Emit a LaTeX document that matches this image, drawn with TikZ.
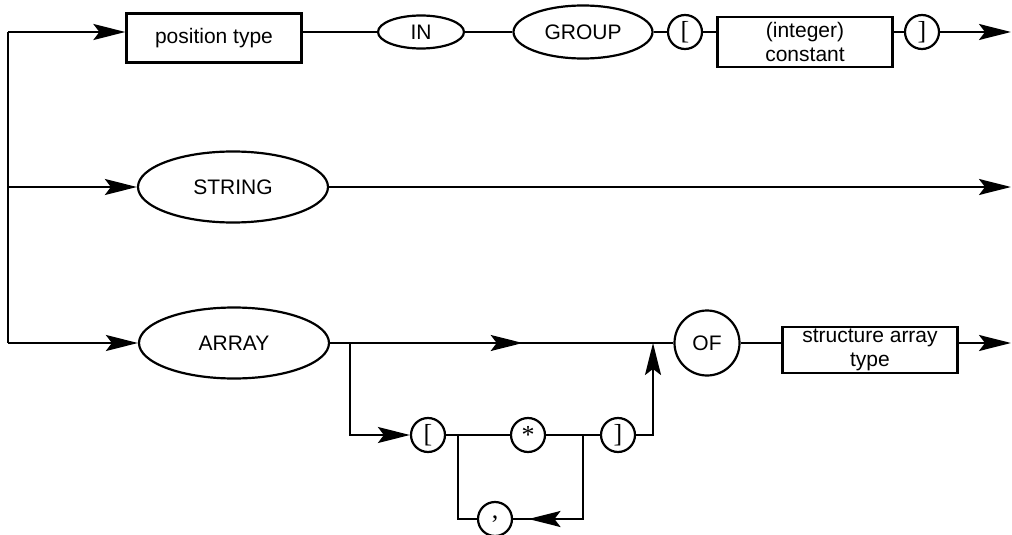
\documentclass[tikz,border=0pt]{standalone}
\usepackage{fontspec}
\setmainfont{Liberation Sans}
\newfontfamily\symfont{Liberation Serif}
\usetikzlibrary{shapes.geometric, arrows.meta, decorations.markings}

\begin{document}
\begin{tikzpicture}[
        x=0.5pt, y=-0.5pt, line width=1.1pt,
        every node/.style={font=\fontsize{10.5}{12}\selectfont},
        arrow/.style={-{Stealth[length=16pt, width=8pt, inset=3pt]}},
        midarrow/.style={postaction={decorate}, decoration={markings, mark=at position #1 with {\arrow{Stealth[length=16pt, width=8pt, inset=3pt]}}}},
        keyword/.style={ellipse, draw, inner sep=0pt},
        symbol/.style={circle, draw, minimum size=17pt, inner sep=0pt, font=\symfont\fontsize{13}{13}\selectfont},
        rulebox/.style={rectangle, draw, minimum width=87.5pt, align=center, inner sep=0pt}
    ]
        \useasboundingbox (0,0) rectangle (1012,535);

        % first alternative
        \coordinate (start1) at (8,32);
        \coordinate (end1) at (1011,32);
        \node[rulebox, minimum height=24.5pt] (ptype) at (214,38) {position type};
        \node[keyword, minimum width=43pt, minimum height=16.5pt] (in) at (421,32) {IN};
        \node[keyword, minimum width=69.5pt, minimum height=26.5pt] (group) at (583,32) {GROUP};
        \node[symbol] (lbr) at (685,32) {[};
        \node[rulebox, minimum height=25pt] (const) at (805,42) {(integer)\\constant};
        \node[symbol] (rbr) at (922,32) {]};

        \draw[arrow] (start1) -- (start1 -| ptype.west);
        \draw (ptype.east |- start1) -- (in);
        \draw (in) -- (group);
        \draw (group) -- (lbr);
        \draw (lbr) -- (lbr -| const.west);
        \draw (rbr -| const.east) -- (rbr);
        \draw[arrow] (rbr) -- (end1);

        % second alternative
        \coordinate (start2) at (8,187);
        \coordinate (end2) at (1011,187);
        \node[keyword, minimum width=95pt, minimum height=35.5pt] (string) at (233,187) {STRING};

        \draw[arrow] (start2) -- (string);
        \draw[arrow] (string) -- (end2);

        % third alternative
        \coordinate (start3) at (8,343);
        \coordinate (end3) at (1011,343);
        \coordinate (split) at (350,343);
        \coordinate (join) at (653,343);
        \node[keyword, minimum width=95pt, minimum height=35.5pt] (array) at (234,343) {ARRAY};
        \node[symbol, minimum size=32.5pt, font=\fontsize{10.5}{12}\selectfont] (of) at (707,343) {OF};
        \node[rulebox, minimum height=23pt] (satype) at (870,350) {structure array\\type};
        \node[symbol] (lbr2) at (428,435) {[};
        \node[symbol] (star) at (528,435) {*};
        \node[symbol] (rbr2) at (618,435) {]};
        \node[symbol] (comma) at (495,519) {,};
        \coordinate (loopL) at (458,435);
        \coordinate (loopR) at (583,435);

        \draw (start1) -- (start3);
        \draw[arrow] (start3) -- (array);
        \draw (array) -- (split);
        \draw[midarrow=0.57] (split) -- (join);
        \draw (join) -- (of);
        \draw (of) -- (of -| satype.west);
        \draw[arrow] (satype.east |- end3) -- (end3);

        \draw[arrow] (split) |- (lbr2);
        \draw (lbr2) -- (star);
        \draw (star) -- (rbr2);
        \draw[arrow] (rbr2) -| (join);
        \draw[midarrow=0.9] (loopR) |- (comma);
        \draw (comma) -| (loopL);
    \end{tikzpicture}
\end{document}
